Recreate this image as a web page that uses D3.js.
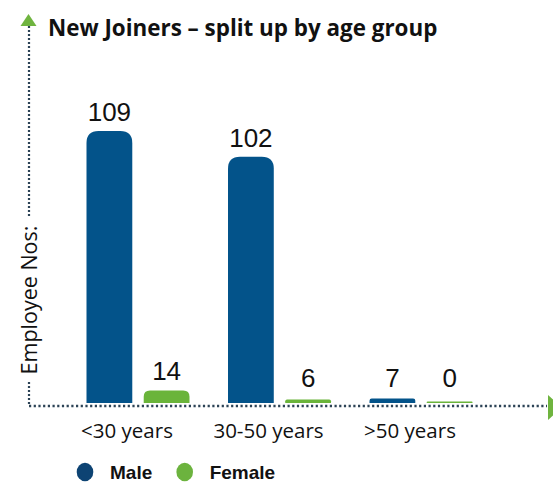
<!DOCTYPE html>
<html>
<head>
<meta charset="UTF-8">
<title>New Joiners</title>
<script src="https://cdn.jsdelivr.net/npm/d3@7"></script>
<style>
  body { margin: 0; background: #fff; }
  svg { display: block; }
</style>
</head>
<body>
<div id="chart"></div>
<script>
// data
var categories = ["<30 years", "30-50 years", ">50 years"];
var series = ["Male", "Female"];
var male = [109, 102, 7];
var female = [14, 6, 0];
var colors = { Male: "#03538a", Female: "#6ab43a" };
var legendColors = { Male: "#0d4373", Female: "#6cb33e" };

var W = 553, H = 483;
var base = 403, axisY = 406, axisX = 29;

var svg = d3.select("#chart").append("svg")
  .attr("width", W)
  .attr("height", H);

var x0 = d3.scalePoint().domain(categories).range([138, 421]);
var x1 = d3.scaleBand().domain(series).range([-51.5, 51.5]).paddingInner(0.2);
// bars in the reference are not linear with the numbers, a pow scale follows them best
var y = d3.scalePow().exponent(1.5).domain([0, 109]).range([base, 131]);

var rows = [];
categories.forEach(function(c, i) {
  rows.push({ cat: c, s: "Male", v: male[i] });
  rows.push({ cat: c, s: "Female", v: female[i] });
});

function barPath(x, top, w) {
  var h = Math.max(base - top, 1.5);
  top = base - h;
  var r = Math.min(12, h / 2, w / 2);
  return "M" + x + "," + base +
    "V" + (top + r) +
    "Q" + x + "," + top + " " + (x + r) + "," + top +
    "H" + (x + w - r) +
    "Q" + (x + w) + "," + top + " " + (x + w) + "," + (top + r) +
    "V" + base + "Z";
}

// axes
svg.append("line")
  .attr("x1", axisX).attr("y1", 26)
  .attr("x2", axisX).attr("y2", axisY)
  .attr("stroke", "#2c4356")
  .attr("stroke-width", 2.2)
  .attr("stroke-dasharray", "2 2");

svg.append("line")
  .attr("x1", axisX).attr("y1", axisY)
  .attr("x2", 547).attr("y2", axisY)
  .attr("stroke", "#2c4356")
  .attr("stroke-width", 2.4)
  .attr("stroke-dasharray", "2.2 2.5");

svg.append("path")
  .attr("d", "M20.5,26 L28.5,14 L36.5,26 Z")
  .attr("fill", "#6fb43f");

svg.append("path")
  .attr("d", "M548,395 L562,407.5 L548,420 Z")
  .attr("fill", "#6fb43f");

// y label with white box over the dotted line
var ylab = svg.append("g").attr("transform", "translate(37,300) rotate(-90)");
ylab.append("rect")
  .attr("x", -82).attr("y", -17)
  .attr("width", 164).attr("height", 24)
  .attr("fill", "#fff");
ylab.append("text")
  .attr("text-anchor", "middle")
  .attr("font-family", "Open Sans")
  .attr("font-size", 21.5)
  .attr("fill", "#111")
  .text("Employee Nos:");

// title
svg.append("text")
  .attr("x", 48).attr("y", 36)
  .attr("font-family", "Open Sans")
  .attr("font-weight", "bold")
  .attr("font-size", 22.4)
  .attr("fill", "#111")
  .text("New Joiners \u2013 split up by age group");

// bars
svg.selectAll(".bar")
  .data(rows)
  .enter().append("path")
  .attr("class", "bar")
  .attr("d", function(d) { return barPath(x0(d.cat) + x1(d.s), y(d.v), x1.bandwidth()); })
  .attr("fill", function(d) { return colors[d.s]; });

// value labels
svg.selectAll(".val")
  .data(rows)
  .enter().append("text")
  .attr("class", "val")
  .attr("x", function(d) { return x0(d.cat) + x1(d.s) + x1.bandwidth() / 2; })
  .attr("y", function(d) { return Math.min(y(d.v) - 10, 387); })
  .attr("text-anchor", "middle")
  .attr("font-family", "Liberation Sans, Arial")
  .attr("font-size", 26)
  .attr("fill", "#111")
  .text(function(d) { return d.v; });

// category labels
svg.selectAll(".cat")
  .data(categories)
  .enter().append("text")
  .attr("class", "cat")
  .attr("x", function(d) { return x0(d) - 11; })
  .attr("y", 438)
  .attr("text-anchor", "middle")
  .attr("font-family", "Open Sans")
  .attr("font-size", 20.5)
  .attr("fill", "#111")
  .text(function(d) { return d; });

// legend
var leg = svg.selectAll(".leg")
  .data(series)
  .enter().append("g")
  .attr("class", "leg")
  .attr("transform", function(d, i) { return "translate(" + (85 + i * 99.7) + ",472)"; });
leg.append("ellipse")
  .attr("rx", 8.3).attr("ry", 9.3)
  .attr("fill", function(d) { return legendColors[d]; });
leg.append("text")
  .attr("x", 25).attr("y", 6.5)
  .attr("font-family", "Liberation Sans, Arial")
  .attr("font-weight", "bold")
  .attr("font-size", 19)
  .attr("fill", "#111")
  .text(function(d) { return d; });
</script>
</body>
</html>
